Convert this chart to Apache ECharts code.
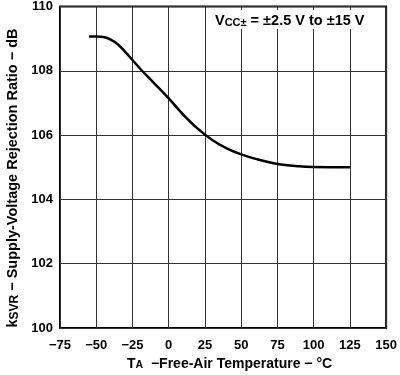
<!DOCTYPE html>
<html>
<head>
<meta charset="utf-8">
<script src="https://cdn.jsdelivr.net/npm/echarts@6/dist/echarts.min.js"></script>
<style>
  html, body { margin: 0; padding: 0; background: #fff; }
  #chart { width: 400px; height: 375px; }
</style>
</head>
<body>
<div id="chart"></div>
<script>
// Temperature (°C) and rejection ratio (dB)
const temps = [-55, -50, -45, -40, -35, -30, -20, -10, 0, 10, 20, 30, 40, 50, 60, 75, 90, 100, 125];
const ksvr = [109.07, 109.07, 109.05, 108.97, 108.82, 108.59, 108.08, 107.61, 107.14, 106.64, 106.2, 105.85, 105.59, 105.4, 105.26, 105.1, 105.03, 105.01, 105.0];

const xTicks = { min: -75, max: 150, step: 25 };
const yTicks = { min: 100, max: 110, step: 2 };

const font = '"Liberation Sans", Arial, sans-serif';

const chart = echarts.init(document.getElementById('chart'), null, { renderer: 'canvas' });

const option = {
    animation: false,
    backgroundColor: '#fff',
    grid: {
        left: 60,
        right: 13,
        top: 4,
        bottom: 47,
        show: true,
        borderColor: '#000',
        borderWidth: 2,
        backgroundColor: 'transparent'
    },
    xAxis: {
        type: 'value',
        min: xTicks.min,
        max: xTicks.max,
        interval: xTicks.step,
        axisLine: { show: false },
        axisTick: { show: false },
        splitLine: { show: true, lineStyle: { color: '#333', width: 1 } },
        axisLabel: {
            margin: 11,
            color: '#000',
            fontFamily: font,
            fontWeight: 'bold',
            fontSize: 13,
            formatter: v => String(v).replace('-', '\u2212')
        }
    },
    yAxis: {
        type: 'value',
        min: yTicks.min,
        max: yTicks.max,
        interval: yTicks.step,
        axisLine: { show: false },
        axisTick: { show: false },
        splitLine: { show: true, lineStyle: { color: '#333', width: 1 } },
        axisLabel: {
            margin: 7,
            color: '#000',
            fontFamily: font,
            fontWeight: 'bold',
            fontSize: 13
        }
    },
    series: [
        {
            type: 'line',
            data: temps.map((t, i) => [t, ksvr[i]]),
            smooth: 0.35,
            showSymbol: false,
            lineStyle: { color: '#000', width: 2.5 }
        }
    ],
    graphic: [
        {
            // condition note, top right
            type: 'text',
            left: 213,
            top: 10,
            z: 100,
            style: {
                text: '{v|V}{s|CC\u00b1}{v| = \u00b12.5 V to \u00b115 V}',
                backgroundColor: '#fff',
                padding: [1, 2, 1, 2],
                rich: {
                    v: { fontFamily: font, fontWeight: 'bold', fontSize: 14.5, fill: '#000', verticalAlign: 'bottom', lineHeight: 17 },
                    s: { fontFamily: font, fontWeight: 'bold', fontSize: 11, fill: '#000', verticalAlign: 'bottom', lineHeight: 13, padding: [4, 0, 0, 0] }
                }
            }
        },
        {
            // x-axis title
            type: 'text',
            left: 127,
            top: 355,
            style: {
                text: '{v|T}{s|A}{v|  \u2212Free-Air Temperature \u2212 \u00b0C}',
                rich: {
                    v: { fontFamily: font, fontWeight: 'bold', fontSize: 14, fill: '#000', verticalAlign: 'bottom', lineHeight: 17 },
                    s: { fontFamily: font, fontWeight: 'bold', fontSize: 10.5, fill: '#000', verticalAlign: 'bottom', lineHeight: 12, padding: [5, 0, 0, 0] }
                }
            }
        },
        {
            // y-axis title, rotated
            type: 'text',
            x: 12,
            y: 178,
            rotation: Math.PI / 2,
            style: {
                text: '{v|k}{s|SVR}{v| \u2212 Supply-Voltage Rejection Ratio \u2212 dB}',
                align: 'center',
                verticalAlign: 'middle',
                rich: {
                    v: { fontFamily: font, fontWeight: 'bold', fontSize: 14.5, fill: '#000', verticalAlign: 'bottom', lineHeight: 17 },
                    s: { fontFamily: font, fontWeight: 'bold', fontSize: 12, fill: '#000', verticalAlign: 'bottom', lineHeight: 13, padding: [4, 0, 0, 0] }
                }
            }
        }
    ]
};

chart.setOption(option);
window.addEventListener('resize', chart.resize);
</script>
</body>
</html>
